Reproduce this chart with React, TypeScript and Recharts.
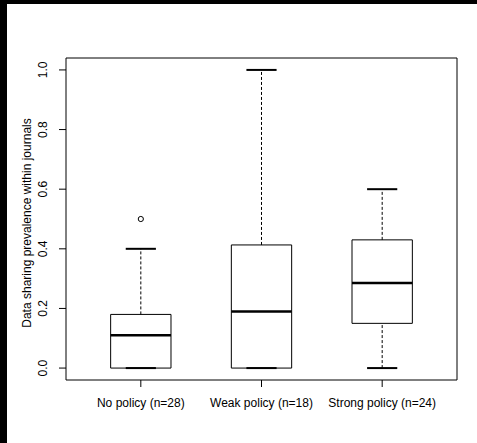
import React from 'react';
import {
  ComposedChart,
  ReferenceArea,
  ReferenceLine,
  Scatter,
  XAxis,
  YAxis,
} from 'recharts';

const groups = ['No policy (n=28)', 'Weak policy (n=18)', 'Strong policy (n=24)'];
const lowerWhisker = [0, 0, 0];
const q1 = [0, 0, 0.15];
const median = [0.11, 0.19, 0.285];
const q3 = [0.18, 0.413, 0.43];
const upperWhisker = [0.4, 1.0, 0.6];
const outliers = [{ x: 1, y: 0.5 }];
const yTicks = [0, 0.2, 0.4, 0.6, 0.8, 1.0];
const xTicks = [1, 2, 3];

const font = 'Liberation Sans, Arial, Helvetica, sans-serif';
const boxHalf = 0.25;
const capHalf = 0.125;

const XTick = (props: any) => {
  const { x, y, payload } = props;
  return (
    <text x={x} y={y + 18} textAnchor="middle" fontSize={12} fill="#000" fontFamily={font}>
      {groups[payload.value - 1]}
    </text>
  );
};

const YTick = (props: any) => {
  const { x, y, payload } = props;
  return (
    <text
      transform={`translate(${x - 10},${y}) rotate(-90)`}
      textAnchor="middle"
      fontSize={12}
      fill="#000"
      fontFamily={font}
    >
      {payload.value.toFixed(1)}
    </text>
  );
};

const YTitle = () => (
  <text
    transform="translate(31,223) rotate(-90)"
    textAnchor="middle"
    fontSize={12}
    fill="#000"
    fontFamily={font}
  >
    Data sharing prevalence within journals
  </text>
);

const OpenCircle = (props: any) => (
  <circle cx={props.cx} cy={props.cy} r={2.6} fill="none" stroke="#000" strokeWidth={1} />
);

export default function App() {
  return (
    <div
      style={{
        position: 'fixed',
        left: 0,
        top: 0,
        width: 477,
        height: 443,
        background: '#fff',
        fontFamily: font,
      }}
    >
      <ComposedChart
        width={477}
        height={443}
        data={outliers}
        margin={{ top: 58, right: 20, bottom: 0, left: 0 }}
        accessibilityLayer={false}
      >
        <XAxis
          type="number"
          dataKey="x"
          domain={[0.38, 3.62]}
          allowDataOverflow
          ticks={xTicks}
          tickSize={7}
          axisLine={false}
          tickLine={{ stroke: '#000' }}
          tick={<XTick />}
          height={63}
          interval={0}
        />
        <YAxis
          type="number"
          dataKey="y"
          domain={[-0.04, 1.04]}
          allowDataOverflow
          ticks={yTicks}
          tickSize={7}
          axisLine={false}
          tickLine={{ stroke: '#000' }}
          tick={<YTick />}
          width={66}
          interval={0}
          label={{ content: <YTitle /> }}
        />
        <ReferenceArea
          x1={0.38}
          x2={3.62}
          y1={-0.04}
          y2={1.04}
          fill="none"
          stroke="#000"
          strokeWidth={1}
        />
        {xTicks.map((c, i) => (
          <ReferenceLine
            key={`uw${i}`}
            segment={[{ x: c, y: q3[i] }, { x: c, y: upperWhisker[i] }]}
            stroke="#000"
            strokeDasharray="3 2"
          />
        ))}
        {xTicks.map((c, i) => (
          <ReferenceLine
            key={`lw${i}`}
            segment={[{ x: c, y: lowerWhisker[i] }, { x: c, y: q1[i] }]}
            stroke="#000"
            strokeDasharray="3 2"
          />
        ))}
        {xTicks.map((c, i) => (
          <ReferenceArea
            key={`box${i}`}
            x1={c - boxHalf}
            x2={c + boxHalf}
            y1={q1[i]}
            y2={q3[i]}
            fill="none"
            stroke="#000"
            strokeWidth={1}
          />
        ))}
        {xTicks.map((c, i) => (
          <ReferenceLine
            key={`cu${i}`}
            segment={[{ x: c - capHalf, y: upperWhisker[i] }, { x: c + capHalf, y: upperWhisker[i] }]}
            stroke="#000"
            strokeWidth={2}
          />
        ))}
        {xTicks.map((c, i) => (
          <ReferenceLine
            key={`cl${i}`}
            segment={[{ x: c - capHalf, y: lowerWhisker[i] }, { x: c + capHalf, y: lowerWhisker[i] }]}
            stroke="#000"
            strokeWidth={2}
          />
        ))}
        {xTicks.map((c, i) => (
          <ReferenceLine
            key={`med${i}`}
            segment={[{ x: c - boxHalf, y: median[i] }, { x: c + boxHalf, y: median[i] }]}
            stroke="#000"
            strokeWidth={2.5}
          />
        ))}
        <Scatter data={outliers} dataKey="y" shape={<OpenCircle />} isAnimationActive={false} />
      </ComposedChart>
      <div style={{ position: 'absolute', left: 0, top: 0, width: 477, height: 4, background: '#000' }} />
      <div style={{ position: 'absolute', left: 0, top: 0, width: 7, height: 443, background: '#000' }} />
    </div>
  );
}
